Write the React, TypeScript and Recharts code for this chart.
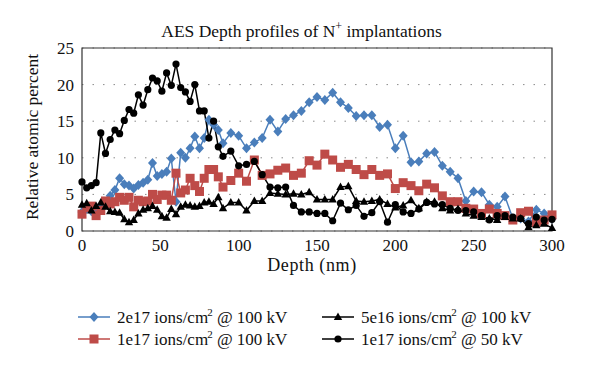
import React from 'react';
import { LineChart, Line, XAxis, YAxis, CartesianGrid, ReferenceArea } from 'recharts';

// depth in nm (3 nm steps up to 90, then 5 nm)
const depth = [
  0, 3, 6, 9, 12, 15, 18, 21, 24, 27, 30, 33, 36, 39, 42, 45, 48, 51, 54, 57, 60, 63, 66, 69, 72, 75, 78, 81, 84, 87, 90,
  95, 100, 105, 110, 115, 120, 125, 130, 135, 140, 145, 150, 155, 160, 165, 170, 175, 180, 185, 190, 195, 200,
  205, 210, 215, 220, 225, 230, 235, 240, 245, 250, 255, 260, 265, 270, 275, 280, 285, 290, 295, 300,
];

const dose2e17 = [
  2.6, 3.0, 2.7, 3.2, 3.4, 3.6, 4.8, 5.6, 7.2, 6.4, 6.2, 5.8, 6.3, 6.6, 7.0, 9.3, 7.5, 7.8, 8.1, 9.9, 4.0, 10.7, 10.0, 11.3, 12.9, 11.3, 12.7, 15.2, 14.5, 13.8, 12.0,
  13.4, 13.0, 11.3, 12.1, 12.7, 15.2, 13.6, 15.3, 15.8, 16.4, 17.6, 18.3, 17.9, 18.9, 17.6, 16.8, 15.7, 15.8, 15.8, 14.2, 14.5, 11.3,
  13.0, 9.4, 9.5, 10.6, 10.8, 8.9, 8.1, 7.2, 4.1, 5.4, 5.3, 3.6, 3.3, 4.7, 1.7, 1.7, 1.3, 2.9, 2.4, 1.7,
];

const dose1e17 = [
  2.3, 3.2, 3.4, 2.1, 2.8, 4.1, 3.7, 4.0, 4.6, 4.2, 4.6, 3.3, 4.2, 4.0, 4.1, 5.0, 4.3, 4.9, 4.9, 4.2, 7.9, 5.2, 5.6, 7.2, 6.2, 5.4, 7.2, 8.4, 8.4, 7.4, 6.0,
  6.9, 7.9, 6.8, 9.7, 7.6, 7.8, 8.3, 8.6, 7.6, 7.9, 9.6, 9.0, 10.5, 9.7, 8.7, 9.1, 8.4, 7.7, 8.4, 7.6, 7.8, 5.8,
  6.6, 6.2, 5.5, 6.4, 5.9, 4.8, 4.0, 4.0, 3.1, 3.0, 2.4, 3.0, 2.4, 2.1, 1.5, 2.5, 2.7, 1.2, 1.5, 2.2,
];

const dose5e16 = [
  3.6, 3.8, 2.8, 3.4, 3.9, 3.3, 2.7, 2.6, 2.5, 1.6, 1.2, 1.5, 2.4, 2.9, 3.1, 3.4, 2.9, 2.0, 1.8, 3.0, 2.3, 3.3, 3.6, 3.5, 3.3, 3.4, 3.9, 4.0, 3.7, 4.6, 3.1,
  3.9, 3.9, 2.8, 4.1, 4.1, 5.2, 5.1, 5.0, 5.1, 5.0, 5.3, 4.3, 4.3, 4.3, 6.0, 6.1, 4.1, 4.0, 4.1, 4.3, 3.7, 3.2,
  3.5, 4.2, 3.1, 4.0, 4.0, 3.1, 2.8, 3.0, 2.4, 2.1, 1.9, 1.7, 1.5, 1.9, 1.7, 1.7, 0.5, 0.8, 1.0, 0.4,
];

const dose1e17at50 = [
  6.7, 5.9, 6.2, 6.6, 13.4, 10.6, 12.5, 13.8, 13.3, 15.1, 16.6, 16.1, 18.6, 17.2, 19.3, 20.9, 20.5, 19.1, 21.6, 19.9, 22.8, 19.6, 19.0, 17.7, 20.0, 16.4, 16.4, 12.7, 15.0, 11.5, 10.2,
  10.9, 8.9, 9.1, 9.5, 7.7, 6.0, 5.9, 6.0, 3.5, 2.6, 2.6, 2.4, 2.4, 1.4, 3.8, 2.9, 3.5, 2.0, 2.5, 4.0, 1.2, 3.6,
  2.6, 2.4, 3.0, 3.9, 3.7, 3.6, 3.1, 2.8, 2.8, 2.6, 2.1, 1.5, 2.1, 2.1, 1.9, 1.7, 1.0, 1.9, 1.5, 1.6,
];

const xTicks = [0, 50, 100, 150, 200, 250, 300];
const yTicks = [0, 5, 10, 15, 20, 25];

const data = depth.map((d, i) => ({
  depth: d,
  a: dose2e17[i],
  b: dose1e17[i],
  c: dose5e16[i],
  d: dose1e17at50[i],
}));

const BLUE = '#4a7ebb';
const RED = '#be4b48';
const font = '"Liberation Serif", "DejaVu Serif", serif';

type Shape = 'diamond' | 'square' | 'triangle' | 'circle';

const marker = (shape: Shape, cx: number, cy: number, color: string, key?: string) => {
  if (shape === 'diamond')
    return <path key={key} d={`M${cx},${cy - 5}L${cx + 4.5},${cy}L${cx},${cy + 5}L${cx - 4.5},${cy}Z`} fill={color} />;
  if (shape === 'square')
    return <rect key={key} x={cx - 4.5} y={cy - 4.5} width={9} height={9} fill={color} />;
  if (shape === 'triangle')
    return <path key={key} d={`M${cx},${cy - 4.5}L${cx + 4.2},${cy + 3}L${cx - 4.2},${cy + 3}Z`} fill={color} />;
  return <circle key={key} cx={cx} cy={cy} r={3.6} fill={color} />;
};

const series = [
  { key: 'a', color: BLUE, shape: 'diamond' as Shape, dose: '2e17', kv: '100' },
  { key: 'b', color: RED, shape: 'square' as Shape, dose: '1e17', kv: '100' },
  { key: 'c', color: '#000', shape: 'triangle' as Shape, dose: '5e16', kv: '100' },
  { key: 'd', color: '#000', shape: 'circle' as Shape, dose: '1e17', kv: '50' },
];

const LegendItem = ({ s, left, top }: { s: (typeof series)[number]; left: number; top: number }) => (
  <div style={{ position: 'absolute', left, top, display: 'flex', alignItems: 'center', whiteSpace: 'nowrap' }}>
    <svg width={32} height={14} style={{ marginRight: 7 }}>
      <line x1={0} y1={7} x2={32} y2={7} stroke={s.color} strokeWidth={1.5} />
      {marker(s.shape, 16, 7, s.color)}
    </svg>
    <span>
      {s.dose} ions/cm<sup style={{ fontSize: 11, marginLeft: -1 }}>2</sup> @ {s.kv} kV
    </span>
  </div>
);

export default function App() {
  return (
    <div style={{ position: 'absolute', left: 0, top: 0, width: 600, height: 371, background: '#fff', fontFamily: font, color: '#111' }}>
      <div style={{ position: 'absolute', left: 0, width: 603, top: 19, textAlign: 'center', fontSize: 17.5 }}>
        AES Depth profiles of N<sup style={{ fontSize: 12 }}>+</sup> implantations
      </div>
      <div
        style={{
          position: 'absolute',
          left: 32,
          top: 137,
          transform: 'translate(-50%, -50%) rotate(-90deg)',
          whiteSpace: 'nowrap',
          fontSize: 17.5,
        }}
      >
        Relative atomic percent
      </div>
      <div
        style={{
          position: 'absolute',
          left: 312,
          top: 255,
          transform: 'translateX(-50%)',
          whiteSpace: 'nowrap',
          fontSize: 18,
          letterSpacing: 0.6,
        }}
      >
        Depth (nm)
      </div>

      <LineChart width={600} height={371} data={data} margin={{ top: 48, right: 48, left: 22, bottom: 110 }}>
        <CartesianGrid vertical={false} stroke="#8a8a8a" strokeDasharray="1.5 9" />
        <XAxis
          dataKey="depth"
          type="number"
          domain={[0, 300]}
          ticks={xTicks}
          tickLine={false}
          axisLine={false}
          height={30}
          tick={{ fill: '#111', fontSize: 17, fontFamily: font }}
        />
        <YAxis
          type="number"
          domain={[0, 25]}
          ticks={yTicks}
          tickLine={false}
          axisLine={false}
          width={60}
          tick={{ fill: '#111', fontSize: 17, fontFamily: font }}
        />
        <ReferenceArea x1={0} x2={300} y1={0} y2={25} fill="none" fillOpacity={0} stroke="#333" strokeWidth={1.2} />
        {series.map((s) => (
          <Line
            key={s.key}
            dataKey={s.key}
            stroke={s.color}
            strokeWidth={1.5}
            isAnimationActive={false}
            dot={(p: any) => marker(s.shape, p.cx, p.cy, s.color, `${s.key}-${p.index}`)}
            activeDot={false}
          />
        ))}
      </LineChart>

      <div style={{ fontSize: 17 }}>
        <LegendItem s={series[0]} left={78} top={306} />
        <LegendItem s={series[1]} left={78} top={328} />
        <LegendItem s={series[2]} left={322} top={306} />
        <LegendItem s={series[3]} left={322} top={328} />
      </div>
    </div>
  );
}
